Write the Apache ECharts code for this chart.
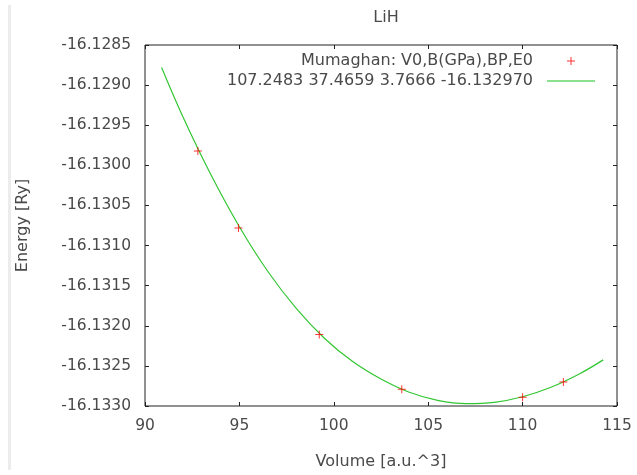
<!DOCTYPE html>
<html>
<head>
    <meta charset="UTF-8">
    <title>LiH</title>
    <script src="https://cdn.jsdelivr.net/npm/echarts@6/dist/echarts.min.js"></script>
</head>
<body style="margin:0;background:#fff">
    <div id="echarts" style="height: 475px;width:637px"></div>
</body>
<script>
    // measured points
    let volume = [92.8, 94.95, 99.23, 103.6, 110.0, 112.16];
    let energy = [-16.12982, -16.13078, -16.13211, -16.13279, -16.13289, -16.13270];
    // fitted curve
    let fitV = [90.88, 92, 93.5, 95, 96.5, 98, 99.5, 101, 102.5, 104, 105.5, 107, 108.5, 110, 111.5, 113, 114.27];
    let fitE = [-16.12878, -16.12939, -16.13012, -16.130765, -16.13132, -16.13178, -16.132155, -16.132445, -16.132663, -16.132828, -16.132929, -16.13297, -16.132954, -16.132885, -16.132767, -16.132601, -16.132425];
    let xTicks = [90, 115, 5];
    let yTicks = [-16.1330, -16.1285, 0.0005];

    let myChart = window.echarts.init(document.getElementById('echarts'));
    let font = 'DejaVu Sans';
    let txt = '#4a4a4a';
    let plus = 'path://M0,3.5h8v1H0zM3.5,0h1v8h-1z';
    let axisBase = {
      axisLine: { show: false },
      axisTick: { inside: true, length: 4, lineStyle: { color: '#222' } },
      splitLine: { show: false },
    };
    let option = {
      animation: false,
      textStyle: { fontFamily: font },
      title: {
        text: 'LiH',
        left: 381,
        textAlign: 'center',
        top: 5,
        textStyle: { fontFamily: font, fontSize: 16, fontWeight: 'normal', color: txt },
      },
      grid: { left: 145, top: 45, right: 20, bottom: 61, show: true, borderColor: '#222', borderWidth: 1 },
      legend: {
        orient: 'vertical',
        right: 37,
        top: 48,
        align: 'right',
        itemWidth: 48,
        itemHeight: 8,
        itemGap: 4,
        textStyle: { fontFamily: font, fontSize: 16, color: txt, padding: [0, 9, 0, 0] },
        data: [
          { name: 'Mumaghan: V0,B(GPa),BP,E0' },
          { name: '107.2483 37.4659 3.7666 -16.132970', icon: 'path://M0,0h48v1.5H0z' },
        ],
      },
      xAxis: [
        Object.assign({
          type: 'value', min: xTicks[0], max: xTicks[1], interval: xTicks[2],
          name: 'Volume [a.u.^3]', nameLocation: 'middle', nameGap: 48,
          nameTextStyle: { fontFamily: font, fontSize: 16, color: txt },
          axisLabel: { fontFamily: font, fontSize: 15.5, color: txt, margin: 12 },
        }, axisBase),
        Object.assign({
          type: 'value', position: 'top', min: xTicks[0], max: xTicks[1], interval: xTicks[2],
          axisLabel: { show: false },
        }, axisBase),
      ],
      yAxis: [
        Object.assign({
          type: 'value', min: yTicks[0], max: yTicks[1], interval: yTicks[2],
          name: 'Energy [Ry]', nameLocation: 'middle', nameGap: 114,
          nameTextStyle: { fontFamily: font, fontSize: 16, color: txt },
          axisLabel: { fontFamily: font, fontSize: 15.5, color: txt, margin: 14, formatter: (v) => v.toFixed(4) },
        }, axisBase),
        Object.assign({
          type: 'value', position: 'right', min: yTicks[0], max: yTicks[1], interval: yTicks[2],
          axisLabel: { show: false },
        }, axisBase),
      ],
      graphic: [
        { type: 'line', shape: { x1: 9.5, y1: 5, x2: 9.5, y2: 470 }, style: { stroke: '#ececec', lineWidth: 3 } },
      ],
      series: [
        {
          name: 'Mumaghan: V0,B(GPa),BP,E0',
          type: 'scatter',
          symbol: plus,
          symbolSize: 8,
          itemStyle: { color: '#ff0000' },
          data: volume.map((v, i) => [v, energy[i]]),
          z: 3,
        },
        {
          name: '107.2483 37.4659 3.7666 -16.132970',
          type: 'line',
          smooth: 0.4,
          symbol: 'none',
          lineStyle: { color: '#33c633', width: 1.2 },
          itemStyle: { color: '#66d866' },
          data: fitV.map((v, i) => [v, fitE[i]]),
          z: 2,
        },
      ],
    };
    myChart.setOption(option);
</script>
</html>
